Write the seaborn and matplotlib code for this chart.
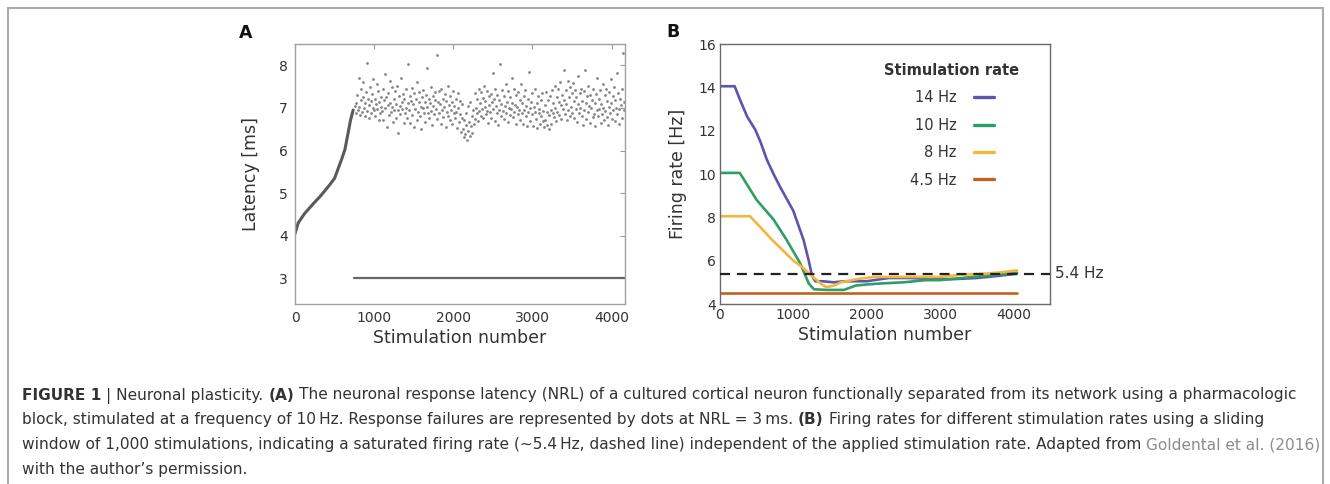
import numpy as np
import pandas as pd
import matplotlib
matplotlib.use("Agg")
import matplotlib.pyplot as plt
import matplotlib.transforms as mtransforms
from matplotlib.patches import Rectangle
import seaborn as sns

# ---------------- Panel A data ----------------
curve_stim = [0, 40, 120, 230, 330, 440, 500, 550, 590, 630, 670, 700, 735]
curve_latency = [4.05, 4.30, 4.52, 4.75, 4.95, 5.20, 5.35, 5.60, 5.80, 6.02, 6.40, 6.70, 6.95]

failure_stim = [740, 4170]
failure_latency = [3.0, 3.0]

cloud_first_stim = 760
cloud_last_stim = 4160
# latency of responding stimulations after the transition, in 1/100 ms
cloud_latency_cms = [
    705, 688, 712, 731, 695, 770, 702, 684, 745, 718, 690, 726, 760, 699, 711, 681, 738, 805, 693, 722,
    708, 676, 749, 716, 687, 733, 701, 768, 694, 720, 682, 710, 757, 697, 740, 671, 715, 689, 726, 703,
    692, 744, 671, 718, 780, 699, 726, 655, 707, 735, 684, 712, 763, 690, 748, 703, 668, 721, 696, 739,
    710, 677, 752, 694, 642, 728, 705, 686, 771, 713, 698, 733, 665, 720, 689, 745, 700, 676, 802, 711,
    695, 728, 664, 717, 746, 683, 709, 655, 734, 698, 721, 672, 760, 690, 713, 738, 681, 702, 650, 726,
    699, 741, 687, 715, 668, 731, 703, 794, 689, 722, 676, 712, 749, 693, 660, 727, 704, 685, 738, 718,
    697, 825, 673, 715, 739, 688, 709, 662, 744, 695, 721, 678, 703, 733, 656, 717, 690, 752, 682, 708,
    671, 728, 696, 713, 662, 739, 688, 705, 676, 720, 691, 654, 734, 700, 668, 717, 685, 643, 709, 676,
    651, 632, 672, 640, 688, 659, 625, 705, 646, 668, 633, 714, 657, 681, 642, 696, 663, 735, 674, 701,
    688, 722, 669, 745, 693, 711, 681, 738, 697, 724, 676, 752, 702, 716, 685, 740, 693, 665, 727, 708,
    691, 733, 676, 715, 782, 698, 722, 669, 745, 704, 687, 730, 661, 719, 696, 803, 682, 710, 741, 693,
    674, 728, 705, 688, 756, 714, 667, 739, 701, 684, 725, 697, 770, 712, 678, 744, 690, 707, 663, 731,
    702, 685, 737, 694, 718, 672, 755, 689, 711, 663, 728, 696, 743, 680, 705, 657, 722, 690, 785, 699,
    670, 714, 686, 734, 658, 703, 691, 745, 675, 712, 654, 729, 687, 698, 662, 718, 681, 735, 693, 670,
    655, 708, 672, 738, 661, 690, 719, 684, 650, 727, 696, 663, 741, 688, 712, 678, 752, 700, 669, 725,
    691, 744, 714, 683, 760, 706, 675, 731, 697, 788, 718, 686, 742, 709, 671, 764, 695, 726, 680, 748,
    703, 735, 689, 758, 716, 677, 742, 698, 725, 667, 776, 709, 688, 734, 700, 745, 681, 717, 660, 739,
    696, 790, 711, 674, 727, 690, 752, 705, 664, 731, 699, 718, 678, 744, 686, 712, 658, 733, 695, 770,
    681, 720, 697, 743, 664, 709, 686, 756, 700, 672, 731, 692, 745, 678, 716, 659, 738, 703, 688, 767,
    712, 675, 729, 694, 750, 669, 718, 701, 781, 685, 734, 697, 662, 722, 708, 744, 676, 830, 714, 695,
]
a_xticks = [0, 1000, 2000, 3000, 4000]
a_yticks = [3, 4, 5, 6, 7, 8]

# ---------------- Panel B data ----------------
rate_labels = ["14 Hz", "10 Hz", "8 Hz", "4.5 Hz"]
b14_stim = [0, 200, 270, 370, 480, 550, 640, 730, 820, 1000, 1140, 1210, 1255, 1300, 1400, 1550,
            1700, 2000, 2300, 2600, 2900, 3200, 3500, 3800, 4050]
b14_rate = [14.05, 14.05, 13.45, 12.65, 12.05, 11.50, 10.65, 10.0, 9.40, 8.30, 6.95, 6.00, 5.30, 5.05,
            5.05, 5.00, 5.05, 5.05, 5.20, 5.20, 5.15, 5.15, 5.20, 5.30, 5.40]
b10_stim = [0, 270, 500, 730, 910, 1090, 1210, 1280, 1450, 1690, 1850, 2000, 2200, 2500, 2800, 3000,
            3300, 3600, 3800, 4050]
b10_rate = [10.05, 10.05, 8.80, 7.90, 6.95, 5.90, 4.95, 4.68, 4.65, 4.65, 4.85, 4.90, 4.95, 5.00, 5.10,
            5.10, 5.20, 5.30, 5.35, 5.45]
b8_stim = [0, 410, 700, 1000, 1140, 1210, 1320, 1390, 1450, 1550, 1650, 1870, 2100, 2500, 3000, 3300,
           3600, 3800, 4050]
b8_rate = [8.05, 8.05, 7.00, 6.00, 5.65, 5.42, 5.10, 4.90, 4.78, 4.85, 5.00, 5.15, 5.25, 5.25, 5.25,
           5.35, 5.40, 5.45, 5.55]
b45_stim = [0, 4050]
b45_rate = [4.5, 4.5]
saturation_rate = 5.4
b_xticks = [0, 1000, 2000, 3000, 4000]
b_yticks = [4, 6, 8, 10, 12, 14, 16]

caption_lines = [
    [("FIGURE 1", "bold", "#333333"), ("| Neuronal plasticity.", "normal", "#333333"),
     ("(A)", "bold", "#333333"),
     ("The neuronal response latency (NRL) of a cultured cortical neuron functionally separated from its network using a pharmacologic", "normal", "#333333")],
    [("block, stimulated at a frequency of 10\u2009Hz. Response failures are represented by dots at NRL = 3\u2009ms.", "normal", "#333333"),
     ("(B)", "bold", "#333333"),
     ("Firing rates for different stimulation rates using a sliding", "normal", "#333333")],
    [("window of 1,000 stimulations, indicating a saturated firing rate (\u223c5.4\u2009Hz, dashed line) independent of the applied stimulation rate. Adapted from", "normal", "#333333"),
     ("Goldental et al. (2016)", "normal", "#8c8c8c")],
    [("with the author\u2019s permission.", "normal", "#333333")],
]

# ---------------- Style ----------------
sns.set_style("white")
plt.rcParams["font.family"] = ["DejaVu Sans"]
plt.rcParams["text.color"] = "#333333"
plt.rcParams["axes.labelcolor"] = "#333333"
plt.rcParams["xtick.color"] = "#333333"
plt.rcParams["ytick.color"] = "#333333"

W, H = 1330, 484
fig = plt.figure(figsize=(W / 100, H / 100), dpi=100)
fig.patch.set_facecolor("white")

def px_axes(left, top, right, bottom):
    return fig.add_axes([left / W, 1 - bottom / H, (right - left) / W, (bottom - top) / H])

axA = px_axes(295, 44, 625, 304)
axB = px_axes(720, 44, 1050, 304)

# ---------------- Panel A ----------------
cloud_latency = np.array(cloud_latency_cms) / 100.0
cloud_stim = np.linspace(cloud_first_stim, cloud_last_stim, len(cloud_latency))
cloud_df = pd.DataFrame({"stim": cloud_stim, "latency": cloud_latency})
curve_df = pd.DataFrame({"stim": curve_stim, "latency": curve_latency})
fail_df = pd.DataFrame({"stim": failure_stim, "latency": failure_latency})

sns.scatterplot(data=cloud_df, x="stim", y="latency", ax=axA, s=4, color="#707070",
                linewidth=0, alpha=0.85, legend=False)
sns.lineplot(data=curve_df, x="stim", y="latency", ax=axA, color="#5a5a5a", lw=2.2,
             sort=False, estimator=None)
sns.lineplot(data=fail_df, x="stim", y="latency", ax=axA, color="#666666", lw=1.6,
             sort=False, estimator=None)

axA.set_xlim(0, 4170)
axA.set_ylim(2.4, 8.5)
axA.set_xticks(a_xticks)
axA.set_yticks(a_yticks)
axA.set_xlabel("Stimulation number", fontsize=12.5, labelpad=3)
axA.set_ylabel("Latency [ms]", fontsize=12.5, labelpad=14)
axA.tick_params(direction="in", top=True, right=True, length=3.5, width=0.8, color="#9a9a9a",
                labelsize=10, pad=5)
for sp in axA.spines.values():
    sp.set_color("#a0a0a0")
    sp.set_linewidth(1.0)

# ---------------- Panel B ----------------
b_frames = []
for lab, xs, ys in zip(rate_labels, [b14_stim, b10_stim, b8_stim, b45_stim],
                       [b14_rate, b10_rate, b8_rate, b45_rate]):
    b_frames.append(pd.DataFrame({"stim": xs, "rate": ys, "Stimulation rate": lab}))
b_df = pd.concat(b_frames, ignore_index=True)
palette = {"14 Hz": "#5a56b0", "10 Hz": "#2f9e66", "8 Hz": "#f3b63d", "4.5 Hz": "#c2621f"}
sns.lineplot(data=b_df, x="stim", y="rate", hue="Stimulation rate", hue_order=rate_labels,
             palette=palette, ax=axB, lw=1.9, sort=False, estimator=None)

axB.axhline(saturation_rate, color="#222222", lw=1.6, ls=(0, (4.5, 3.1)), zorder=5)
blend = mtransforms.blended_transform_factory(axB.transAxes, axB.transData)
axB.text(1.015, saturation_rate, "5.4 Hz", transform=blend, ha="left", va="center", fontsize=11,
         color="#333333")

axB.set_xlim(0, 4500)
axB.set_ylim(4, 16)
axB.set_xticks(b_xticks)
axB.set_yticks(b_yticks)
axB.set_xlabel("Stimulation number", fontsize=12.5, labelpad=3)
axB.set_ylabel("Firing rate [Hz]", fontsize=12.5, labelpad=8)
axB.tick_params(direction="in", length=3.5, width=0.8, color="#666666", labelsize=10, pad=3)
for sp in axB.spines.values():
    sp.set_color("#6a6a6a")
    sp.set_linewidth(1.0)

handles, labels = axB.get_legend_handles_labels()
leg = axB.legend(handles, labels, title="Stimulation rate", markerfirst=False, frameon=False,
                 loc="upper right", bbox_to_anchor=(0.93, 0.955), borderpad=0, fontsize=10.5,
                 title_fontproperties={"weight": "bold", "size": 10.5}, handlelength=1.4,
                 handletextpad=1.2, labelspacing=0.85)
for line in leg.get_lines():
    line.set_linewidth(2.4)

# ---------------- Panel letters ----------------
fig.text(246 / W, 1 - 33 / H, "A", fontsize=12.5, fontweight="bold", ha="center", va="center",
         color="#111111")
fig.text(673 / W, 1 - 32 / H, "B", fontsize=12.5, fontweight="bold", ha="center", va="center",
         color="#111111")

# ---------------- Outer frame ----------------
fig.patches.append(Rectangle((8 / W, -0.2), (1323 - 8) / W, 1.2 - 8 / H, transform=fig.transFigure,
                             fill=False, edgecolor="#ababab", lw=1.5))

# ---------------- Caption ----------------
renderer = fig.canvas.get_renderer()
cap_x0 = 22

def space_width(size):
    t1 = fig.text(0, 0, "n n", fontsize=size)
    t2 = fig.text(0, 0, "nn", fontsize=size)
    w = t1.get_window_extent(renderer).width - t2.get_window_extent(renderer).width
    t1.remove()
    t2.remove()
    return w

def layout_line(parts, size, y_px):
    x = cap_x0
    sp = space_width(size)
    texts = []
    for s, w, c in parts:
        t = fig.text(x / W, 1 - y_px / H, s, fontsize=size, fontweight=w, color=c,
                     va="baseline", ha="left")
        x += t.get_window_extent(renderer).width + sp
        texts.append(t)
    return x - sp - cap_x0, texts

w10, tmp = layout_line(caption_lines[2], 10, 450)
for t in tmp:
    t.remove()
cap_size = 10 * (1316 - cap_x0) / w10

for parts, y in zip(caption_lines, [399.5, 424.3, 449.1, 473.9]):
    layout_line(parts, cap_size, y)

fig.savefig("out.png", dpi=100, facecolor="white")
